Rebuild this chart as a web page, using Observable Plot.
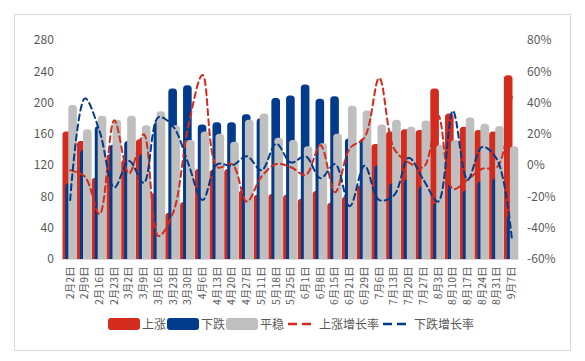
<!DOCTYPE html>
<html><head><meta charset="utf-8">
<script src="https://cdn.jsdelivr.net/npm/d3@7"></script>
<script src="https://cdn.jsdelivr.net/npm/@observablehq/plot@0.6"></script>
<style>
body{margin:0;background:#fff;font-family:"Noto Sans CJK SC","Noto Sans",sans-serif;}
#wrap{position:relative;width:585px;height:361px;overflow:hidden;}
#frame{position:absolute;left:14px;top:14px;width:557px;height:337px;border:1px solid #D9D9D9;box-sizing:border-box;}
#chart{position:absolute;left:0;top:0;}
#legend{position:absolute;left:108px;top:317px;display:flex;align-items:center;font-size:12px;color:#595959;line-height:14px;white-space:nowrap;}
#legend .sw{width:32px;height:12px;border-radius:3px;margin-right:2px;}
#legend .tx{margin-right:1px;}
#legend svg{margin:0 8px 0 3px;}
</style></head>
<body><div id="wrap"><div id="frame"></div><div id="chart"></div><div id="legend"></div></div>
<script>
const dates = ["2月2日","2月9日","2月16日","2月23日","3月2日","3月9日","3月16日","3月23日","3月30日","4月6日","4月13日","4月20日","4月27日","5月11日","5月18日","5月25日","6月1日","6月8日","6月15日","6月21日","6月29日","7月6日","7月13日","7月20日","7月27日","8月3日","8月10日","8月17日","8月24日","8月31日","9月7日"];
const upCount   = [163,151,104,134,127,153,84,59,73,115,114,115,88,82,83,82,77,87,72,80,94,147,163,166,165,218,186,169,165,163,235];
const downCount = [97,139,170,146,151,134,175,218,222,172,175,175,185,180,206,209,223,205,208,154,154,120,97,102,93,72,97,88,99,103,56];
const flatCount = [197,166,183,178,183,171,189,171,152,163,160,150,178,186,155,152,144,148,160,196,190,172,178,169,177,146,152,181,173,170,144];
const upRate    = [-3,-7,-31,29,-5,20,-45,-30,24,58,-1,1,-23,-7,1,-1,-6,13,-17,11,18,56,11,2,-1,32,-15,-9,-2,-1,44];
const downRate  = [-22,43,22,-14,3,-11,31,25,2,-22,1,0,6,-3,14,2,6,-8,1,-26,0,-22,-19,5,-9,-23,35,-9,12,4,-46];
const leftTicks = [0,40,80,120,160,200,240,280];
const rightTickLabels = ["-60%","-40%","-20%","0%","20%","40%","60%","80%"];
const rightDomain = [-60, 80];
const leftDomain = [0, 280];
const seriesNames = ["上涨","下跌","平稳","上涨增长率","下跌增长率"];
const seriesColors = ["#D42B1F","#023A8C","#BFBFBF","#D42B1F","#023A8C"];

const toLeft = p => (p - rightDomain[0]) / (rightDomain[1] - rightDomain[0]) * (leftDomain[1] - leftDomain[0]) + leftDomain[0];
const rows = dates.map((d, i) => ({date: d, up: upCount[i], down: downCount[i], flat: flatCount[i], upR: toLeft(upRate[i]), downR: toLeft(downRate[i])}));

const bar = (key, color, l, r) => Plot.barY(rows, {x: "date", y1: -20, y2: key, fill: color, insetLeft: l, insetRight: r, rx: 3.5, clip: true});
const dash = (key, color) => Plot.line(rows, {x: "date", y: key, stroke: color, strokeWidth: 2, strokeDasharray: "6,4", curve: "catmull-rom"});

const chart = Plot.plot({
  width: 585, height: 312,
  marginLeft: 62.3, marginRight: 66.4, marginTop: 40, marginBottom: 53,
  style: {fontFamily: '"Noto Sans CJK SC","Noto Sans",sans-serif', fontSize: "12px", color: "#595959", background: "transparent"},
  x: {domain: dates, padding: 0, round: false, label: null},
  y: {domain: leftDomain, label: null},
  marks: [
    bar("up", seriesColors[0], 0, 6.1),
    bar("down", seriesColors[1], 3, 3.1),
    bar("flat", seriesColors[2], 6, 0.1),
    Plot.ruleY([0], {stroke: "#D9D9D9"}),
    dash("upR", seriesColors[3]),
    dash("downR", seriesColors[4]),
    Plot.axisY(leftTicks, {anchor: "left", tickSize: 0, tickPadding: 9, label: null, fill: "#595959", fontSize: 12}),
    Plot.axisY(leftTicks, {anchor: "right", tickSize: 0, tickPadding: 8, label: null, fill: "#595959", fontSize: 12,
      tickFormat: d => rightTickLabels[leftTicks.indexOf(d)]}),
    Plot.axisX({tickRotate: -90, tickSize: 0, tickPadding: 7, label: null, fill: "#595959", fontSize: 10.5})
  ]
});
document.getElementById("chart").appendChild(chart);

const legend = document.getElementById("legend");
seriesNames.forEach((name, i) => {
  if (i < 3) {
    const s = document.createElement("div");
    s.className = "sw"; s.style.background = seriesColors[i];
    legend.appendChild(s);
  } else {
    const ns = "http://www.w3.org/2000/svg";
    const svg = document.createElementNS(ns, "svg");
    svg.setAttribute("width", 23); svg.setAttribute("height", 12);
    const ln = document.createElementNS(ns, "line");
    ln.setAttribute("x1", 0); ln.setAttribute("x2", 23); ln.setAttribute("y1", 6); ln.setAttribute("y2", 6);
    ln.setAttribute("stroke", seriesColors[i]); ln.setAttribute("stroke-width", 2.5); ln.setAttribute("stroke-dasharray", "9,5");
    svg.appendChild(ln);
    legend.appendChild(svg);
  }
  const t = document.createElement("span");
  t.className = "tx"; t.textContent = name;
  legend.appendChild(t);
});
</script>
</body></html>
